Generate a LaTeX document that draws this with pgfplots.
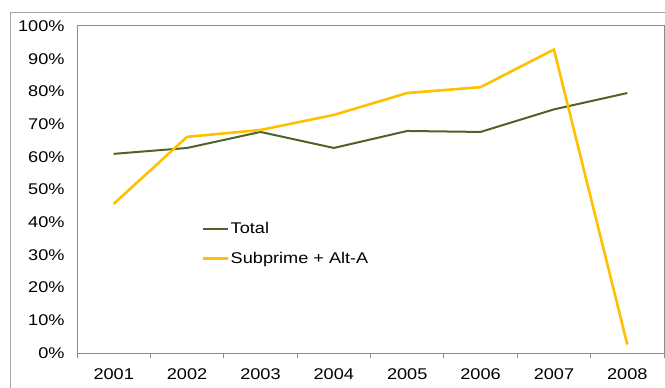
\documentclass[border=0pt]{standalone}
\usepackage{fontspec}
\setmainfont{Liberation Sans}[FakeStretch=1.17]
\usepackage{pgfplots}
\pgfplotsset{compat=1.18}
\definecolor{totalgreen}{HTML}{4F6228}
\definecolor{subgold}{HTML}{FFC000}
\definecolor{framegray}{RGB}{165,165,165}
\definecolor{axisgray}{RGB}{140,140,140}
\begin{document}
\begin{tikzpicture}[font=\fontsize{15.5bp}{18bp}\selectfont]
\useasboundingbox (0bp,0bp) rectangle (665bp,388bp);
% outer chart frame
\draw[framegray, line width=1bp] (10.5bp,-5bp) -- (10.5bp,375.5bp) -- (670bp,375.5bp);
\begin{axis}[
  at={(77bp,35bp)}, anchor=south west,
  scale only axis, width=587bp, height=327bp,
  xmin=-0.5, xmax=7.5, ymin=0, ymax=100,
  xtick={0,...,7},
  xticklabels={2001,2002,2003,2004,2005,2006,2007,2008},
  minor xtick={-0.5,0.5,...,7.5},
  ytick={0,10,...,100},
  yticklabels={0\%,10\%,20\%,30\%,40\%,50\%,60\%,70\%,80\%,90\%,100\%},
  major tick length=0pt, minor tick length=5bp,
  tick align=outside, xtick pos=bottom, ytick pos=left,
  minor tick style={axisgray, line width=1bp},
  axis line style={axisgray, line width=1bp},
  yticklabel style={xshift=-9bp},
  xticklabel style={yshift=-12bp},
  legend style={at={(0.212,0.405)}, anchor=north west, draw=none, fill=none,
    inner sep=0pt, row sep=14bp, nodes={inner sep=1.5bp}},
  legend cell align=left,
  legend image code/.code={\draw[#1] (0bp,0bp) -- (25bp,0bp);},
]
\addplot[totalgreen, line width=2bp] coordinates {
  (0,60.9) (1,62.7) (2,67.6) (3,62.7) (4,67.9) (5,67.6) (6,74.5) (7,79.5)};
\addlegendentry{Total}
\addplot[subgold, line width=2.6bp] coordinates {
  (0,45.6) (1,66.1) (2,68.2) (3,72.8) (4,79.5) (5,81.3) (6,92.8) (7,2.6)};
\addlegendentry{Subprime + Alt-A}
\end{axis}
\end{tikzpicture}
\end{document}
